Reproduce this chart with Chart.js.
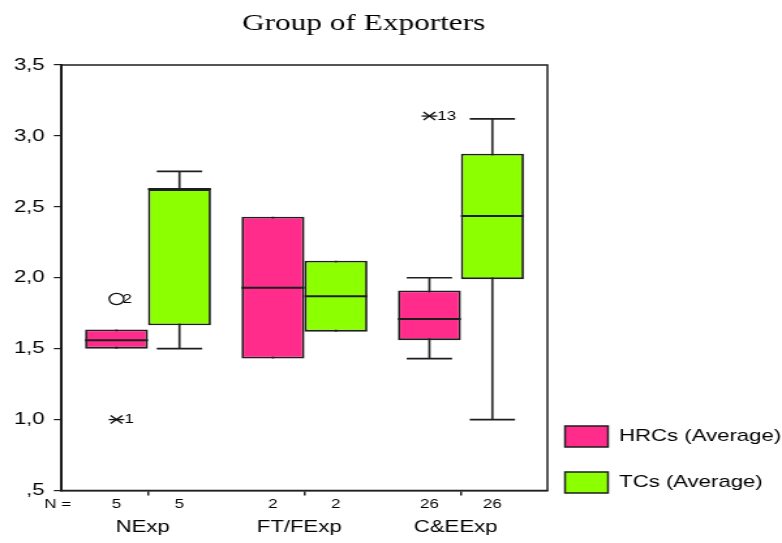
<!DOCTYPE html>
<html>
<head>
<meta charset="utf-8">
<script src="https://cdn.jsdelivr.net/npm/chart.js@4.4.0/dist/chart.umd.min.js"></script>
<style>
  html, body { margin: 0; padding: 0; background: #fff; }
  #boxChart { display: block; }
</style>
</head>
<body>
<!-- the original output is stretched sideways, so the canvas is drawn narrow and widened by css -->
<canvas id="boxChart" width="600" height="543" style="width:782px;height:543px"></canvas>
<script>
const groups = ['NExp', 'FT/FExp', 'C&EExp'];
const seriesNames = ['HRCs (Average)', 'TCs (Average)'];
const nHRC = [5, 2, 26];
const nTC = [5, 2, 26];

// box plot summaries
const hrcLow = [1.5, 1.43, 1.43];
const hrcQ1 = [1.5, 1.43, 1.56];
const hrcMed = [1.56, 1.93, 1.71];
const hrcQ3 = [1.635, 2.43, 1.91];
const hrcHigh = [1.635, 2.43, 2.0];

const tcLow = [1.5, 1.62, 1.0];
const tcQ1 = [1.665, 1.62, 1.99];
const tcMed = [2.625, 1.87, 2.435];
const tcQ3 = [2.625, 2.12, 2.875];
const tcHigh = [2.75, 2.12, 3.12];

// outliers (o) and extremes (*), with case numbers
const hrcOut = [[{v: 1.85, id: '2', kind: 'o'}, {v: 1.0, id: '1', kind: '*'}], [], [{v: 3.14, id: '13', kind: '*'}]];
const tcOut = [[], [], []];

const yMin = 0.5, yMax = 3.5, yStep = 0.5;

const pink = '#FF2C8B';
const green = '#8CFF00';
const ink = '#1e1e1e';

Chart.defaults.font.family = '"Liberation Sans", Arial, sans-serif';
Chart.defaults.color = '#000';

function boxes(lo, hi) {
  return groups.map((g, i) => ({x: i, y: [lo[i], hi[i]]}));
}

const series = [
  {low: hrcLow, q1: hrcQ1, med: hrcMed, q3: hrcQ3, high: hrcHigh, out: hrcOut, n: nHRC},
  {low: tcLow, q1: tcQ1, med: tcMed, q3: tcQ3, high: tcHigh, out: tcOut, n: nTC}
];

function line(ctx, x1, y1, x2, y2) {
  ctx.beginPath();
  ctx.moveTo(x1, y1);
  ctx.lineTo(x2, y2);
  ctx.stroke();
}

// medians, whisker caps, outliers and the frame
const boxExtras = {
  id: 'boxExtras',
  afterDatasetsDraw(chart) {
    const ctx = chart.ctx;
    const y = chart.scales.y;
    ctx.save();
    ctx.strokeStyle = ink;
    series.forEach((s, k) => {
      const meta = chart.getDatasetMeta(k);
      meta.data.forEach((bar, i) => {
        const x = bar.x, w = bar.width;
        ctx.lineWidth = 2;
        line(ctx, x - w / 2, y.getPixelForValue(s.med[i]), x + w / 2, y.getPixelForValue(s.med[i]));
        ctx.lineWidth = 1.6;
        const cap = w * 0.36;
        if (s.high[i] > s.q3[i]) {
          const py = y.getPixelForValue(s.high[i]);
          line(ctx, x - cap, py, x + cap, py);
        }
        if (s.low[i] < s.q1[i]) {
          const py = y.getPixelForValue(s.low[i]);
          line(ctx, x - cap, py, x + cap, py);
        }
        s.out[i].forEach(o => {
          const py = y.getPixelForValue(o.v);
          ctx.lineWidth = 1.3;
          ctx.strokeStyle = '#111';
          if (o.kind === 'o') {
            ctx.beginPath();
            ctx.arc(x, py, 5.6, 0, Math.PI * 2);
            ctx.stroke();
          } else {
            line(ctx, x - 6, py, x + 6, py);
            line(ctx, x - 4.5, py - 4, x + 4.5, py + 4);
            line(ctx, x - 4.5, py + 4, x + 4.5, py - 4);
          }
          ctx.fillStyle = '#000';
          ctx.font = '13px "Liberation Sans", Arial, sans-serif';
          ctx.textAlign = 'left';
          ctx.textBaseline = 'middle';
          ctx.fillText(o.id, x + (o.kind === 'o' ? 4.5 : 6), py);
          ctx.strokeStyle = ink;
        });
      });
    });
    const a = chart.chartArea;
    ctx.lineWidth = 1.5;
    ctx.strokeStyle = ink;
    ctx.strokeRect(a.left, a.top, a.right - a.left, a.bottom - a.top);
    ctx.restore();
  },
  afterDraw(chart) {
    const ctx = chart.ctx;
    const xs = chart.scales.x;
    ctx.save();
    ctx.fillStyle = '#000';
    ctx.textBaseline = 'alphabetic';
    ctx.textAlign = 'center';
    ctx.font = '24px "Liberation Serif", "Times New Roman", serif';
    ctx.fillText('Group of Exporters', 279, 30);

    ctx.textBaseline = 'middle';
    ctx.font = '13px "Liberation Sans", Arial, sans-serif';
    ctx.textAlign = 'left';
    ctx.fillText('N =', 34, 504);
    ctx.textAlign = 'center';
    series.forEach((s, k) => {
      chart.getDatasetMeta(k).data.forEach((bar, i) => {
        ctx.fillText(String(s.n[i]), bar.x, 504);
      });
    });
    ctx.font = '17px "Liberation Sans", Arial, sans-serif';
    groups.forEach((g, i) => {
      ctx.fillText(g, xs.getPixelForValue(i) - 4, 527);
    });
    ctx.restore();
  }
};

const config = {
  type: 'bar',
  data: {
    datasets: [
      {label: seriesNames[0], data: boxes(hrcQ1, hrcQ3), stack: 'hrc', backgroundColor: pink, borderColor: ink, borderWidth: 1.8, borderSkipped: false},
      {label: seriesNames[1], data: boxes(tcQ1, tcQ3), stack: 'tc', backgroundColor: green, borderColor: ink, borderWidth: 1.8, borderSkipped: false},
      {label: 'hrc whisker', data: boxes(hrcLow, hrcHigh), stack: 'hrc', backgroundColor: '#2a2a2a', borderWidth: 0, maxBarThickness: 1.7},
      {label: 'tc whisker', data: boxes(tcLow, tcHigh), stack: 'tc', backgroundColor: '#2a2a2a', borderWidth: 0, maxBarThickness: 1.7}
    ]
  },
  options: {
    responsive: false,
    animation: false,
    devicePixelRatio: 1,
    categoryPercentage: 0.805,
    barPercentage: 1,
    layout: {padding: {top: 65, left: 10, right: 0, bottom: 25}},
    scales: {
      x: {
        type: 'linear',
        min: -0.556,
        max: 2.553,
        offset: false,
        afterBuildTicks: (s) => { s.ticks = groups.map((g, i) => ({value: i})); },
        afterFit: (s) => { s.height = 27.5; },
        ticks: {display: false},
        grid: {offset: false, drawOnChartArea: false, drawTicks: true, tickLength: 5, color: ink, lineWidth: 1.5},
        border: {display: true, color: ink, width: 1.5}
      },
      y: {
        min: yMin,
        max: yMax,
        stacked: false,
        afterFit: (s) => { s.width = 36.8; },
        ticks: {
          stepSize: yStep,
          padding: 7,
          color: '#000',
          font: {size: 17},
          callback: (v) => v.toFixed(1).replace('.', ',').replace(/^0/, '')
        },
        grid: {drawOnChartArea: false, drawTicks: true, tickLength: 5.5, color: ink, lineWidth: 1.2},
        border: {display: true, color: '#111', width: 2}
      }
    },
    plugins: {
      tooltip: {enabled: false},
      legend: {
        position: 'right',
        align: 'end',
        maxWidth: 180,
        labels: {
          boxWidth: 33,
          boxHeight: 21,
          padding: 13.5,
          color: '#000',
          font: {size: 17, lineHeight: 1.912},
          generateLabels: (chart) => Chart.defaults.plugins.legend.labels.generateLabels(chart)
            .filter(item => item.datasetIndex < 2)
            .map(item => Object.assign(item, {text: [item.text], lineWidth: 1.5, strokeStyle: ink}))
        }
      }
    }
  },
  plugins: [boxExtras]
};

const myChart = new Chart(document.getElementById('boxChart'), config);
</script>
</body>
</html>
